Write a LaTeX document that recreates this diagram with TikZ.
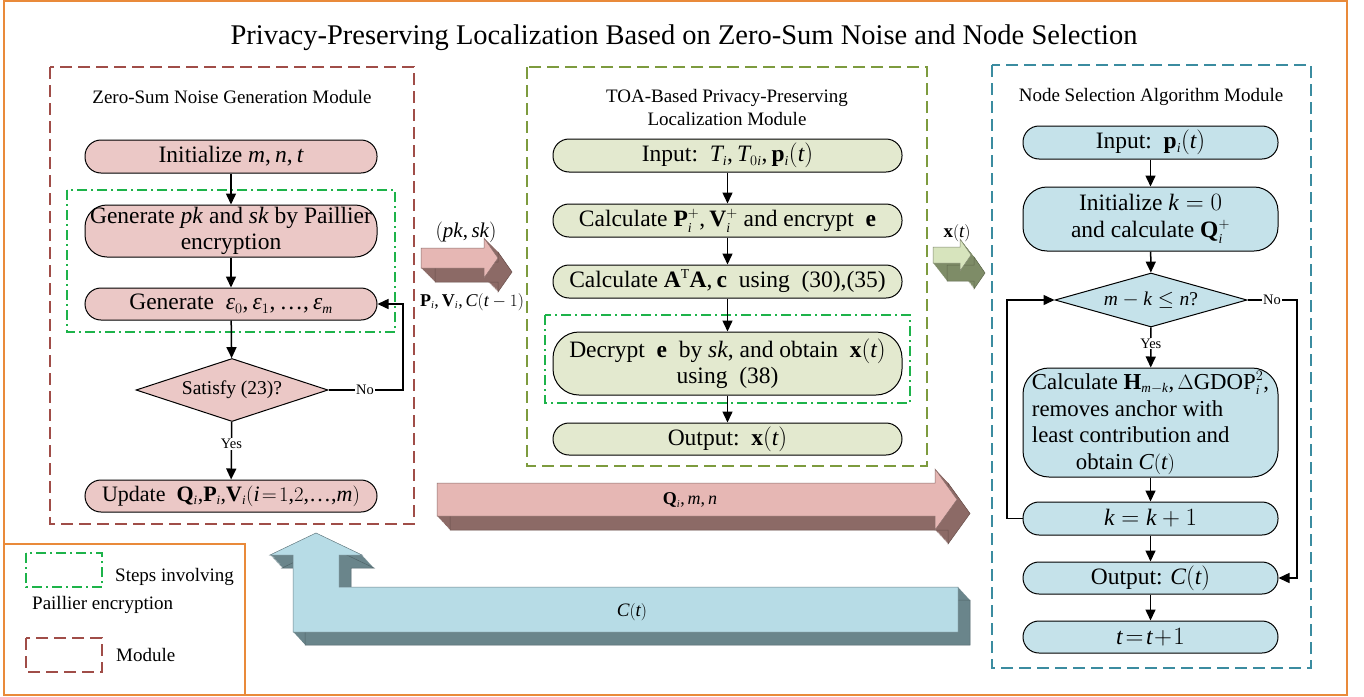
\documentclass[tikz,border=0pt]{standalone}
\usepackage{fontspec}
\setmainfont{Liberation Serif}[NFSSFamily=libserif]
\DeclareSymbolFont{tletters}{TU}{libserif}{m}{it}
\DeclareSymbolFont{tupright}{TU}{libserif}{m}{n}
\makeatletter
\count@=`a
\loop \Umathcode\count@=7 \symtletters\count@ \ifnum\count@<`z \advance\count@ by 1 \repeat
\count@=`A
\loop \Umathcode\count@=7 \symtletters\count@ \ifnum\count@<`Z \advance\count@ by 1 \repeat
\makeatother
\Umathcode`\,=6 \symtupright `\,
\Umathchardef\varepsilon=7 \symtletters "03B5
\Umathchardef\Delta=0 \symtupright "0394
\Umathchardef\tdots=0 \symtupright "2026
\Umathchardef\ocomma=0 \symtupright `\,
\renewcommand\defaultscriptratio{.58}
\renewcommand\defaultscriptscriptratio{.45}
\usetikzlibrary{arrows.meta,shapes.geometric}
\definecolor{pinkbox}{HTML}{EBC8C6}
\definecolor{greenbox}{HTML}{E3E9CF}
\definecolor{bluebox}{HTML}{C5E2EA}
\definecolor{leftmod}{HTML}{A04D48}
\definecolor{midmod}{HTML}{7D9B3E}
\definecolor{rightmod}{HTML}{3B8CA0}
\definecolor{dashgreen}{HTML}{1DB34A}
\definecolor{frameorange}{HTML}{E98A3A}
\definecolor{pinkfront}{HTML}{E6B7B4}
\definecolor{pinkside}{HTML}{8C6A66}
\definecolor{greenfront}{HTML}{D7E4BD}
\definecolor{greenside}{HTML}{7E8C67}
\definecolor{bluefront}{HTML}{B7DCE6}
\definecolor{blueside}{HTML}{6A858B}
\newcommand\threedarrow[5]{%
  \foreach \s in {0,1,...,24}{\fill[#2, xshift=\s*#3/24*1pt, yshift=-\s*#4/24*1pt] #5;}
  \draw[#2!75!black, line width=0.5pt, xshift=#3*1pt, yshift=-#4*1pt] #5;
  \fill[#1] #5;
  \draw[#1!60!black, line width=0.5pt] #5;
}
\tikzset{
  boxfont/.style={font=\fontsize{23.5}{26.5}\selectfont},
  fbox/.style={draw, line width=1pt, rounded corners=16pt, inner sep=0pt, align=center, boxfont},
  lbox/.style={fbox, fill=pinkbox, minimum width=292pt, minimum height=33pt},
  mbox/.style={fbox, fill=greenbox, minimum width=349pt, minimum height=33pt},
  rbox/.style={fbox, fill=bluebox, minimum width=255pt, minimum height=33pt},
  dia/.style={diamond, draw, line width=1pt, aspect=3, inner sep=0pt, font=\fontsize{19.5}{22}\selectfont},
  flow/.style={line width=1.5pt, -{Triangle[length=11pt,width=10pt]}},
  yn/.style={fill=white, inner sep=1pt, font=\fontsize{14.5}{16}\selectfont},
  modtitle/.style={font=\fontsize{19}{23}\selectfont, align=center},
  moddash/.style={line width=1.5pt, dash pattern=on 12pt off 6pt},
  encdash/.style={dashgreen, line width=1.3pt, dash pattern=on 10pt off 4pt on 2pt off 4pt},
  arrlabel/.style={inner sep=0pt},
}
\begin{document}
\begin{tikzpicture}[x=1pt,y=-1pt]
\useasboundingbox (0,0) rectangle (1364,696);
\fill[white] (0,0) rectangle (1364,696);
% outer frame and legend frame
\draw[frameorange, line width=2pt] (4,1) rectangle (1347,695);
\draw[frameorange, line width=2pt] (4,544) -| (245,695);
% title
\node[font=\fontsize{28.5}{32}\selectfont] (title) at (684,38) {Privacy-Preserving Localization Based on Zero-Sum Noise and Node Selection};

% module frames
\draw[moddash, leftmod] (50,67) rectangle (414,524);
\draw[moddash, midmod] (527,67) rectangle (927,466);
\draw[moddash, rightmod] (992,65) rectangle (1311,668);
\draw[encdash] (67,190) rectangle (395,332);
\draw[encdash] (545,315) rectangle (910,403);

% module titles
\node[modtitle] (lt) at (232,97) {Zero-Sum Noise Generation Module};
\node[modtitle] (mt) at (727,107) {TOA-Based Privacy-Preserving\\Localization Module};
\node[modtitle] (rt) at (1151,97) {Node Selection Algorithm Module};

% left module
\node[lbox] (n1) at (231,156.5) {Initialize $m,n,t$};
\node[lbox, minimum height=52pt, rounded corners=22pt] (n2) at (231,231) {Generate \textit{pk} and \textit{sk} by Paillier\\encryption};
\node[lbox, minimum height=32pt] (n3) at (231,304) {Generate\ \ $\varepsilon_0,\varepsilon_1,\tdots,\varepsilon_m$};
\node[dia, fill=pinkbox, minimum width=192pt, minimum height=63pt] (d1) at (232,390) {Satisfy (23)?};
\node[lbox, minimum height=32pt, font=\fontsize{22}{26}\selectfont] (n4) at (231,496) {Update\ \ $\mathbf{Q}_i\ocomma\mathbf{P}_i\ocomma\mathbf{V}_i(i\!=\!1\ocomma 2\ocomma\tdots\ocomma m)$};
\draw[flow] (n1) -- (n2);
\draw[flow] (n2) -- (n3);
\draw[flow] (n3) -- (d1);
\draw[flow] (d1) -- node[yn, pos=0.38] (y1) {Yes} (n4);
\draw[flow] (d1.east) -- (403,390) -- (403,304) -- (n3.east);
\node[yn] (no1) at (365,390) {No};

% middle module
\node[mbox] (m1) at (727.5,155.5) {Input:\ \ $T_i,T_{0i},\mathbf{p}_i(t)$};
\node[mbox] (m2) at (727.5,220.5) {Calculate $\mathbf{P}_i^+,\mathbf{V}_i^+$ and encrypt\ \ $\mathbf{e}$};
\node[mbox] (m3) at (727.5,281.5) {Calculate $\mathbf{A}^{\mathrm{T}}\mathbf{A},\mathbf{c}$\ \ using\ \ (30),(35)};
\node[mbox, minimum height=63pt, rounded corners=26pt] (m4) at (727.5,363.5) {Decrypt\ \ $\mathbf{e}$\ \ by \textit{sk}, and obtain\ \ $\mathbf{x}(t)$\\using\ \ (38)};
\node[mbox, minimum height=32pt] (m5) at (727.5,439) {Output:\ \ $\mathbf{x}(t)$};
\draw[flow] (m1) -- (m2);
\draw[flow] (m2) -- (m3);
\draw[flow] (m3) -- (m4);
\draw[flow] (m4) -- (m5);

% right module
\node[rbox] (r1) at (1150.5,142.5) {Input:\ \ $\mathbf{p}_i(t)$};
\node[rbox, minimum height=64pt, rounded corners=24pt] (r2) at (1150.5,219) {Initialize $k=0$\\and calculate $\mathbf{Q}_i^+$};
\node[dia, fill=bluebox, minimum width=192pt, minimum height=54pt] (rd) at (1151,300) {$m-k\le n$?};
\node[rbox, minimum height=109pt, rounded corners=26pt, align=left, font=\fontsize{22.8}{26.5}\selectfont] (r3) at (1150.5,422.5) {Calculate $\mathbf{H}_{m-k},\Delta\mathrm{GDOP}_i^2$,\\removes anchor with\\least contribution and\\\hspace*{44pt}obtain $C(t)$};
\node[rbox] (r4) at (1150.5,518.5) {$k=k+1$};
\node[rbox, minimum height=32pt] (r5) at (1150.5,578) {Output: $C(t)$};
\node[rbox, minimum height=32pt] (r6) at (1150.5,637) {$t\!=\!t\!+\!1$};
\draw[flow] (r1) -- (r2);
\draw[flow] (r2) -- (rd);
\draw[flow] (rd) -- node[yn, pos=0.4] (y2) {Yes} (r3);
\draw[flow] (r3) -- (r4);
\draw[flow] (r4) -- (r5);
\draw[flow] (r5) -- (r6);
\draw[flow] (r4.west) -- (1007,518.5) -- (1007,300) -- (rd.west);
\draw[flow] (rd.east) -- (1297,300) -- (1297,578) -- (r5.east);
\node[yn] (no2) at (1272,300) {No};

% 3D arrows
\threedarrow{pinkfront}{pinkside}{14}{14}{(421,248) -- (484,248) -- (484,238) -- (498,258) -- (484,278) -- (484,268) -- (421,268) -- cycle}
\threedarrow{greenfront}{greenside}{14}{18}{(933,247) -- (960,247) -- (960,239) -- (971,255) -- (960,271) -- (960,263) -- (933,263) -- cycle}
\threedarrow{pinkfront}{pinkside}{13}{14}{(437,483) -- (935,483) -- (935,469) -- (957,499.5) -- (935,530) -- (935,516) -- (437,516) -- cycle}
\threedarrow{bluefront}{blueside}{12}{13}{(293,632) -- (293,555) -- (270,555) -- (316,533) -- (362,555) -- (339,555) -- (339,587) -- (958,587) -- (958,632) -- cycle}

\node[arrlabel, font=\fontsize{21}{24}\selectfont] (lpk) at (466,232) {$(\mathit{pk},\mathit{sk})$};
\node[arrlabel, font=\fontsize{18}{20}\selectfont] (lpv) at (472,302) {$\mathbf{P}_i,\mathbf{V}_i,C(t-1)$};
\node[arrlabel, font=\fontsize{19}{21}\selectfont] (lx) at (957,233) {$\mathbf{x}(t)$};
\node[arrlabel, font=\fontsize{18}{20}\selectfont] (lq) at (690,500) {$\mathbf{Q}_i,m,n$};
\node[arrlabel, font=\fontsize{19}{21}\selectfont] (lc) at (632,612) {$C(t)$};

% legend
\draw[encdash] (26,553) rectangle (102,587);
\node[anchor=west, inner sep=0pt, font=\fontsize{19}{22}\selectfont] (leg1) at (115,577) {Steps involving};
\node[anchor=west, inner sep=0pt, font=\fontsize{19}{22}\selectfont] (leg2) at (32,605) {Paillier encryption};
\draw[moddash, leftmod] (26,638) rectangle (102,672);
\node[anchor=west, inner sep=0pt, font=\fontsize{19}{22}\selectfont] (leg3) at (116,655) {Module};
\end{tikzpicture}
\end{document}
